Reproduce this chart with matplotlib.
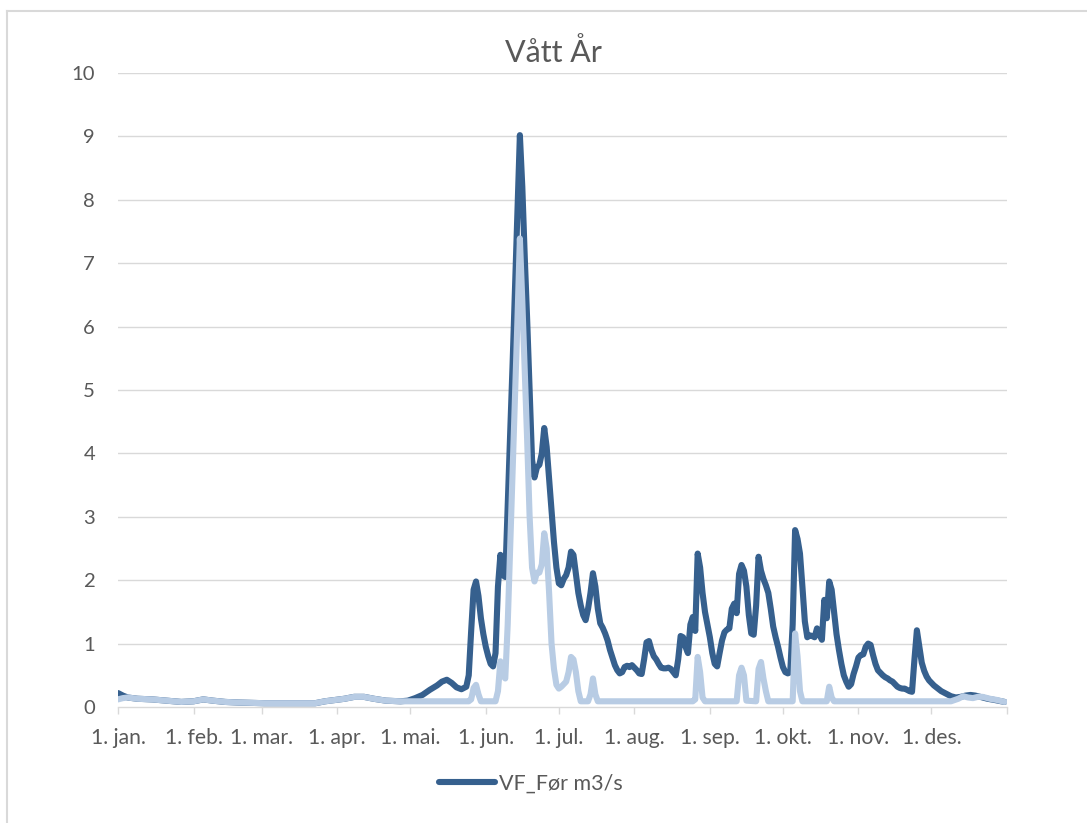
import matplotlib
matplotlib.use('Agg')
import matplotlib.pyplot as plt
from matplotlib.lines import Line2D

plt.rcParams['font.family'] = ['Lato', 'DejaVu Sans']

TEXT = '#595959'
GRID = '#D9D9D9'
DARK = '#36608E'
LIGHT = '#B8CCE4'

# day of year (0 = 1. jan.) and flow in m3/s
dark_days = ([0, 2, 4, 8, 14, 20, 26, 31, 35, 39, 44, 50, 60, 70, 81, 85, 89, 93,
              97, 101, 105, 110, 116, 119, 122, 125, 128, 131, 133, 135, 137, 139,
              141, 143]
             + list(range(144, 339))
             + [340, 342, 344, 346, 348, 350, 352, 354, 357, 360, 364])
dark_flow = [0.22, 0.18, 0.15, 0.13, 0.12, 0.10, 0.08, 0.09, 0.12, 0.10, 0.08, 0.07,
             0.06, 0.06, 0.06, 0.09, 0.11, 0.13, 0.16, 0.16, 0.13, 0.10, 0.09, 0.10,
             0.14, 0.19, 0.27, 0.34, 0.40, 0.43, 0.38, 0.31, 0.28, 0.32,
             # 144 - 153
             0.50, 1.20, 1.85, 1.98, 1.75, 1.40, 1.15, 0.95, 0.80, 0.68,
             # 154 - 163
             0.64, 0.85, 1.90, 2.40, 2.08, 2.05, 3.20, 4.30, 5.40, 6.60,
             # 164 - 173
             7.80, 9.02, 8.20, 7.10, 6.10, 5.00, 3.90, 3.62, 3.78, 3.82,
             # 174 - 183
             4.00, 4.40, 4.10, 3.60, 3.10, 2.60, 2.20, 1.95, 1.92, 2.02,
             # 184 - 193
             2.08, 2.20, 2.45, 2.40, 2.10, 1.80, 1.60, 1.45, 1.37, 1.55,
             # 194 - 203
             1.80, 2.11, 1.90, 1.55, 1.32, 1.25, 1.16, 1.05, 0.90, 0.78,
             # 204 - 213
             0.66, 0.58, 0.53, 0.55, 0.63, 0.65, 0.63, 0.66, 0.62, 0.58,
             # 214 - 223
             0.53, 0.52, 0.75, 1.02, 1.04, 0.90, 0.80, 0.75, 0.68, 0.62,
             # 224 - 233
             0.61, 0.61, 0.62, 0.60, 0.55, 0.50, 0.75, 1.12, 1.10, 0.95,
             # 234 - 243
             0.85, 1.30, 1.42, 1.20, 2.42, 2.20, 1.80, 1.50, 1.30, 1.10,
             # 244 - 253
             0.85, 0.68, 0.64, 0.85, 1.05, 1.18, 1.22, 1.24, 1.55, 1.63,
             # 254 - 263
             1.48, 2.10, 2.24, 2.15, 1.90, 1.45, 1.16, 1.14, 1.60, 2.37,
             # 264 - 273
             2.15, 2.02, 1.92, 1.80, 1.55, 1.27, 1.10, 0.95, 0.78, 0.63,
             # 274 - 283
             0.55, 0.53, 0.55, 1.30, 2.79, 2.65, 2.42, 1.90, 1.35, 1.10,
             # 284 - 293
             1.13, 1.12, 1.10, 1.24, 1.15, 1.06, 1.69, 1.40, 1.98, 1.85,
             # 294 - 303
             1.50, 1.15, 0.90, 0.68, 0.50, 0.40, 0.32, 0.36, 0.52, 0.64,
             # 304 - 313
             0.78, 0.82, 0.83, 0.95, 1.00, 0.98, 0.82, 0.68, 0.58, 0.54,
             # 314 - 323
             0.50, 0.47, 0.45, 0.42, 0.40, 0.36, 0.32, 0.30, 0.29, 0.29,
             # 324 - 333
             0.27, 0.25, 0.24, 0.75, 1.21, 0.95, 0.70, 0.57, 0.48, 0.42,
             # 334 - 338
             0.38, 0.34, 0.31, 0.28, 0.25,
             0.21, 0.17, 0.15, 0.16, 0.18, 0.19, 0.18, 0.16, 0.13, 0.11, 0.08]

light_days = [0, 2, 4, 8, 14, 20, 26, 31, 35, 39, 44, 50, 60, 70, 81, 85, 89, 93,
              97, 101, 105, 110, 116, 120, 144, 145, 146, 147, 148, 149, 155,
              156, 157, 158, 159, 160, 161, 162, 163, 164, 165,
              166, 167, 168, 169, 170, 171, 172, 173, 174, 175,
              176, 177, 178, 179, 180, 181, 182, 183, 184, 185,
              186, 187, 188, 189, 190, 193, 194, 195, 196, 197,
              236, 237, 238, 239, 240, 241, 254, 255, 256, 257, 258,
              262, 263, 264, 265, 266, 267, 277, 278, 279, 280, 281,
              291, 292, 293, 294, 342, 345, 347, 349, 351, 353, 355, 358, 361, 364]
light_flow = [0.12, 0.14, 0.15, 0.13, 0.12, 0.10, 0.08, 0.09, 0.12, 0.10, 0.08, 0.07,
              0.06, 0.06, 0.06, 0.09, 0.11, 0.13, 0.16, 0.16, 0.13, 0.10, 0.09, 0.09,
              0.09, 0.12, 0.30, 0.35, 0.20, 0.09, 0.09,
              0.25, 0.72, 0.50, 0.45, 1.30, 2.50, 3.70, 4.90, 6.10, 7.39,
              6.40, 5.30, 4.20, 3.00, 2.20, 1.98, 2.12, 2.12, 2.25, 2.74,
              2.50, 1.80, 1.00, 0.60, 0.35, 0.29, 0.32, 0.36, 0.40, 0.55,
              0.79, 0.75, 0.55, 0.25, 0.09, 0.09, 0.20, 0.45, 0.20, 0.09,
              0.09, 0.12, 0.79, 0.55, 0.15, 0.09, 0.09, 0.50, 0.62, 0.50, 0.10,
              0.09, 0.60, 0.71, 0.45, 0.25, 0.09, 0.09, 1.16, 0.80, 0.25, 0.09,
              0.09, 0.32, 0.15, 0.09, 0.09, 0.13, 0.17, 0.15, 0.14, 0.16, 0.16, 0.13, 0.11, 0.08]

month_starts = [0, 31, 59, 90, 120, 151, 181, 212, 243, 273, 304, 334, 365]
month_labels = ['1. jan.', '1. feb.', '1. mar.', '1. apr.', '1. mai.', '1. jun.',
                '1. jul.', '1. aug.', '1. sep.', '1. okt.', '1. nov.', '1. des.', '']

W, H = 1087, 823
fig = plt.figure(figsize=(W / 100, H / 100), dpi=100)
ax = fig.add_axes([118 / W, 1 - 707 / H, (1007 - 118) / W, (707 - 73) / H])

ax.set_xlim(0, 365)
ax.set_ylim(0, 10)

for v in range(1, 11):
    ax.axhline(v, color=GRID, lw=1.0, zorder=1)

dark_line, = ax.plot(dark_days, dark_flow, color=DARK, lw=4.4,
                     solid_capstyle='round', solid_joinstyle='round', zorder=3)
ax.plot(light_days, light_flow, color=LIGHT, lw=4.4,
        solid_capstyle='round', solid_joinstyle='round', zorder=4)

for side in ['top', 'right', 'left']:
    ax.spines[side].set_visible(False)
ax.spines['bottom'].set_color(GRID)
ax.spines['bottom'].set_linewidth(1.0)

ax.set_yticks(range(11))
ax.set_xticks(month_starts)
ax.set_xticklabels(month_labels)
ax.tick_params(axis='y', length=0, pad=16.5, labelsize=14.6, labelcolor=TEXT)
ax.tick_params(axis='x', length=5, width=1.0, color=GRID, pad=10,
               labelsize=15.2, labelcolor=TEXT)

fig.text(553 / W, 1 - 62 / H, 'Vått År', ha='center', va='baseline',
         fontsize=22, color=TEXT)

fig.legend(handles=[dark_line], labels=['VF_Før m3/s'], loc='center',
           bbox_to_anchor=(531 / W, 1 - 784 / H), frameon=False,
           handlelength=2.6, handletextpad=0.2, fontsize=15.5, labelcolor=TEXT)

# chart frame on the left and top
fig.add_artist(Line2D([7 / W, 7 / W], [0, 1 - 11 / H], transform=fig.transFigure,
                      color=GRID, lw=1.5))
fig.add_artist(Line2D([7 / W, 1], [1 - 11 / H, 1 - 11 / H], transform=fig.transFigure,
                      color=GRID, lw=1.5))

fig.savefig('out.png', dpi=100)
